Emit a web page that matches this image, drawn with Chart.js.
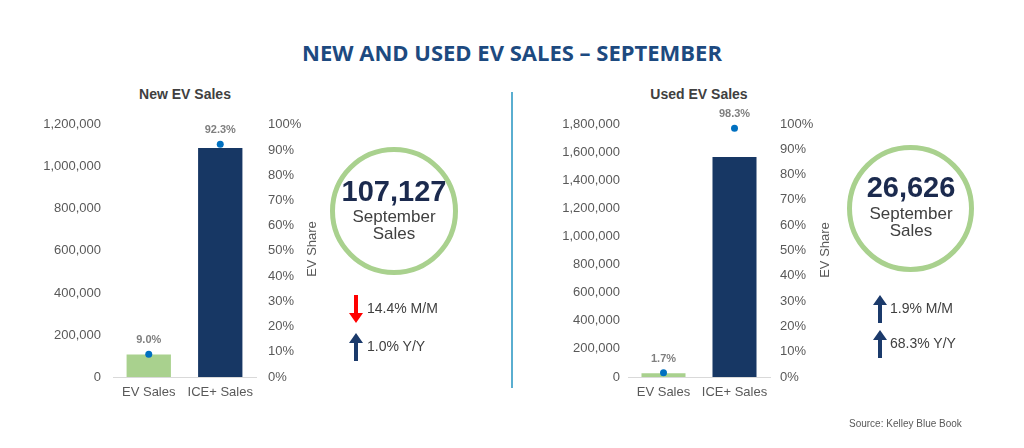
<!DOCTYPE html>
<html>
<head>
<meta charset="utf-8">
<script src="https://cdn.jsdelivr.net/npm/chart.js@4.4.1/dist/chart.umd.min.js"></script>
<style>
  body { margin: 0; background: #fff; font-family: "Liberation Sans", Arial, sans-serif; }
  #wrap { position: relative; width: 1024px; height: 448px; overflow: hidden; }
  .abs { position: absolute; }
  #title { left: 0; width: 1024px; top: 37px; text-align: center; font-family: "Open Sans", sans-serif; font-weight: 700; font-size: 22px; color: #1d4a80; padding-left: 0; }
  .sub { font-weight: 700; font-size: 14px; color: #404040; transform: translateX(-50%); white-space: nowrap; }
  .vlab { font-size: 13px; color: #595959; transform: translate(-50%, -50%) rotate(-90deg); white-space: nowrap; }
  .ring { border: 5px solid #a9d18e; border-radius: 50%; box-sizing: border-box; }
  .big { font-weight: 700; font-size: 29px; color: #1b2a4e; transform: translateX(-50%); white-space: nowrap; }
  .mid { font-size: 17px; color: #404040; transform: translateX(-50%); white-space: nowrap; line-height: 17px; text-align: center; }
  .chg { font-size: 14px; color: #404040; white-space: nowrap; }
  #sep { left: 511px; top: 92px; width: 2px; height: 296px; background: #5aaed0; }
  #src { left: 849px; top: 418px; font-size: 10px; color: #595959; }
</style>
</head>
<body>
<div id="wrap">
  <div id="title" class="abs">NEW AND USED EV SALES – SEPTEMBER</div>
  <div class="abs sub" style="left:185px; top:86px;">New EV Sales</div>
  <div class="abs sub" style="left:699px; top:86px;">Used EV Sales</div>
  <canvas id="newChart" class="abs" width="330" height="325" style="left:0; top:105px;"></canvas>
  <canvas id="usedChart" class="abs" width="330" height="325" style="left:520px; top:105px;"></canvas>
  <div class="abs vlab" style="left:311px; top:249px;">EV Share</div>
  <div class="abs vlab" style="left:824px; top:250px;">EV Share</div>
  <div id="sep" class="abs"></div>

  <div class="abs ring" style="left:330px; top:147px; width:128px; height:128px;"></div>
  <div class="abs big" style="left:394px; top:175px;">107,127</div>
  <div class="abs mid" style="left:394px; top:208px;">September<br>Sales</div>

  <div class="abs ring" style="left:847px; top:145px; width:127px; height:127px;"></div>
  <div class="abs big" style="left:911px; top:171px;">26,626</div>
  <div class="abs mid" style="left:911px; top:205px;">September<br>Sales</div>

  <svg class="abs" style="left:349px; top:295px;" width="14" height="28"><polygon points="5,0 9,0 9,18 14,18 7,28 0,18 5,18" fill="#ff0000"/></svg>
  <div class="abs chg" style="left:367px; top:300px;">14.4% M/M</div>
  <svg class="abs" style="left:349px; top:333px;" width="14" height="28"><polygon points="7,0 14,10 9,10 9,28 5,28 5,10 0,10" fill="#1b3a6b"/></svg>
  <div class="abs chg" style="left:367px; top:338px;">1.0% Y/Y</div>

  <svg class="abs" style="left:873px; top:295px;" width="14" height="28"><polygon points="7,0 14,10 9,10 9,28 5,28 5,10 0,10" fill="#1b3a6b"/></svg>
  <div class="abs chg" style="left:890px; top:300px;">1.9% M/M</div>
  <svg class="abs" style="left:873px; top:330px;" width="14" height="28"><polygon points="7,0 14,10 9,10 9,28 5,28 5,10 0,10" fill="#1b3a6b"/></svg>
  <div class="abs chg" style="left:890px; top:335px;">68.3% Y/Y</div>

  <div id="src" class="abs">Source: Kelley Blue Book</div>
</div>
<script>
// data
const categories = ['EV Sales', 'ICE+ Sales'];
const newSales = [107127, 1090000];
const newShare = [9.0, 92.3];
const usedSales = [26626, 1565000];
const usedShare = [1.7, 98.3];
const newMax = 1200000;
const usedMax = 1800000;
const salesStep = 200000;
const barColors = ['#a9d18e', '#173764'];

// draws the share % above each dot
const shareLabels = {
  id: 'shareLabels',
  afterDatasetsDraw(chart) {
    const ctx = chart.ctx;
    const meta = chart.getDatasetMeta(1);
    ctx.save();
    ctx.font = 'bold 11px "Liberation Sans", Arial, sans-serif';
    ctx.fillStyle = '#7f7f7f';
    ctx.textAlign = 'center';
    ctx.textBaseline = 'middle';
    meta.data.forEach((pt, i) => {
      ctx.fillText(chart.data.datasets[1].data[i].toFixed(1) + '%', pt.x, pt.y - 14);
    });
    ctx.restore();
  }
};

function makeChart(id, sales, share, max, leftW, rightW, padTop, tickPadL, tickPadR) {
  const tickFont = { family: '"Liberation Sans", Arial, sans-serif', size: 13 };
  return new Chart(document.getElementById(id), {
    type: 'bar',
    data: {
      labels: categories,
      datasets: [
        {
          data: sales,
          backgroundColor: barColors,
          yAxisID: 'y',
          barPercentage: 0.62,
          categoryPercentage: 1,
          order: 2
        },
        {
          type: 'line',
          data: share,
          yAxisID: 'y1',
          showLine: false,
          pointRadius: 3.5,
          pointBackgroundColor: '#0070c0',
          pointBorderWidth: 0,
          order: 1
        }
      ]
    },
    options: {
      responsive: false,
      animation: false,
      layout: { padding: { top: padTop, left: 0, right: 0, bottom: 0 } },
      plugins: { legend: { display: false }, tooltip: { enabled: false } },
      scales: {
        x: {
          grid: { display: false, drawTicks: false },
          border: { display: true, color: '#d9d9d9' },
          ticks: { font: tickFont, color: '#595959', padding: 8, maxRotation: 0, minRotation: 0, autoSkip: false },
          afterFit: s => { s.height = 53; }
        },
        y: {
          position: 'left',
          min: 0, max: max,
          grid: { display: false, drawTicks: false },
          border: { display: false },
          ticks: {
            stepSize: salesStep, font: tickFont, color: '#595959', padding: tickPadL,
            callback: v => v.toLocaleString('en-US')
          },
          afterFit: s => { s.width = leftW; }
        },
        y1: {
          position: 'right',
          min: 0, max: 100,
          grid: { display: false, drawTicks: false },
          border: { display: false },
          ticks: { stepSize: 10, font: tickFont, color: '#595959', padding: tickPadR, callback: v => v + '%' },
          afterFit: s => { s.width = rightW; }
        }
      }
    },
    plugins: [shareLabels]
  });
}

makeChart('newChart', newSales, newShare, newMax, 113, 74, 15, 12, 12);
makeChart('usedChart', usedSales, usedShare, usedMax, 108, 80, 19, 8, 10);
</script>
</body>
</html>
